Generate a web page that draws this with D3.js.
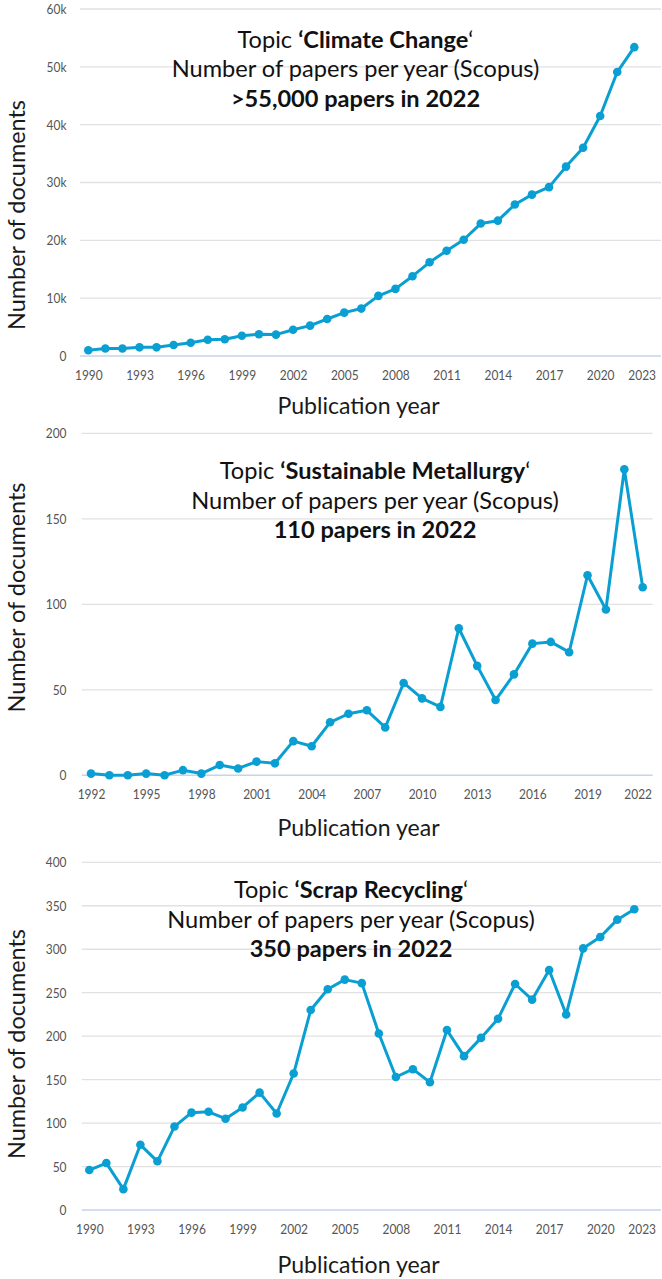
<!DOCTYPE html>
<html><head><meta charset="utf-8">
<script src="https://cdn.jsdelivr.net/npm/d3@7"></script>
<style>body{margin:0;background:#fff} svg{display:block}</style>
</head><body>
<svg id="c" width="662" height="1279"></svg>
<script>
// ---------- DATA ----------
const climateYears = [1990,1991,1992,1993,1994,1995,1996,1997,1998,1999,2000,2001,2002,2003,2004,2005,2006,2007,2008,2009,2010,2011,2012,2013,2014,2015,2016,2017,2018,2019,2020,2021,2022];
const climateValues = [1000,1300,1300,1500,1500,1900,2300,2800,2900,3500,3750,3700,4550,5250,6400,7500,8200,10400,11600,13800,16200,18200,20100,22900,23400,26200,27900,29200,32750,36000,41500,49100,53400];

const metallurgyYears = [1992,1993,1994,1995,1996,1997,1998,1999,2000,2001,2002,2003,2004,2005,2006,2007,2008,2009,2010,2011,2012,2013,2014,2015,2016,2017,2018,2019,2020,2021,2022];
const metallurgyValues = [1,0,0,1,0,3,1,6,4,8,7,20,17,31,36,38,28,54,45,40,86,64,44,59,77,78,72,117,97,179,110];

const scrapYears = [1990,1991,1992,1993,1994,1995,1996,1997,1998,1999,2000,2001,2002,2003,2004,2005,2006,2007,2008,2009,2010,2011,2012,2013,2014,2015,2016,2017,2018,2019,2020,2021,2022];
const scrapValues = [46,54,24,75,56,96,112,113,105,118,135,111,157,230,254,265,261,203,153,162,147,207,177,198,220,260,242,276,225,301,314,334,346];

const climateXTicks = [1990,1993,1996,1999,2002,2005,2008,2011,2014,2017,2020,2023];
const metallurgyXTicks = [1992,1995,1998,2001,2004,2007,2010,2013,2016,2019,2022];
const scrapXTicks = [1990,1993,1996,1999,2002,2005,2008,2011,2014,2017,2020,2023];

const climateYTicks = [0,10000,20000,30000,40000,50000,60000];
const climateYTickLabels = ["0","10k","20k","30k","40k","50k","60k"];
const metallurgyYTicks = [0,50,100,150,200];
const metallurgyYTickLabels = ["0","50","100","150","200"];
const scrapYTicks = [0,50,100,150,200,250,300,350,400];
const scrapYTickLabels = ["0","50","100","150","200","250","300","350","400"];

const climateTitle = ["Climate Change", ">55,000 papers in 2022"];
const metallurgyTitle = ["Sustainable Metallurgy", "110 papers in 2022"];
const scrapTitle = ["Scrap Recycling", "350 papers in 2022"];
const subtitle = "Number of papers per year (Scopus)";
const xAxisTitle = "Publication year";
const yAxisTitle = "Number of documents";

// ---------- LAYOUT ----------
const panels = [
  {years: climateYears, values: climateValues, xTicks: climateXTicks, yTicks: climateYTicks, yLabels: climateYTickLabels, title: climateTitle,
   xDom:[1990,2022], xRange:[88.3,634.3], yMax:60000, yRange:[356,9], gridX:[80,661], labelMax:656,
   titleX:355.5, titleY:[47.7,77.3,106.7], xTitleY:414.3, yTitleY:215},
  {years: metallurgyYears, values: metallurgyValues, xTicks: metallurgyXTicks, yTicks: metallurgyYTicks, yLabels: metallurgyYTickLabels, title: metallurgyTitle,
   xDom:[1992,2022], xRange:[91,642.7], yMax:200, yRange:[775.3,433.3], gridX:[81.7,652.7], labelMax:652,
   titleX:375, titleY:[479.3,508.6,538.3], xTitleY:835.5, yTitleY:597.5},
  {years: scrapYears, values: scrapValues, xTicks: scrapXTicks, yTicks: scrapYTicks, yLabels: scrapYTickLabels, title: scrapTitle,
   xDom:[1990,2022], xRange:[89.3,634.3], yMax:400, yRange:[1210,862.3], gridX:[81.7,661], labelMax:656,
   titleX:351, titleY:[897.7,927.5,956.7], xTitleY:1272.7, yTitleY:1044}
];

const FONT = "Lato, 'Open Sans', sans-serif";
const LINE = "#0a9fd2";
const svg = d3.select("#c");

function fit(sel, target){
  const w = sel.node().getBBox().width;
  const fs = parseFloat(sel.attr("font-size"));
  const nfs = fs*target/w;
  sel.attr("font-size", nfs);
  return nfs;
}

// calibrate font sizes
const probe = svg.append("text").attr("font-family",FONT).attr("font-size",20);
probe.text(subtitle); const titleFS = fit(probe, 367.6);
const tickFS = 14;
probe.attr("font-size",tickFS).text("1990"); const tickSquash = 27.7 / probe.node().getComputedTextLength();
probe.attr("font-size",20).text(xAxisTitle); const xtFS = fit(probe, 163);
probe.attr("font-size",20).text(yAxisTitle); const ytFS = fit(probe, 230);
probe.remove();

function squash(sel){
  sel.each(function(){
    const w = this.getComputedTextLength();
    d3.select(this).attr("textLength", w*tickSquash).attr("lengthAdjust","spacingAndGlyphs");
  });
}

panels.forEach(p => {
  const g = svg.append("g");
  const x = d3.scaleLinear().domain(p.xDom).range(p.xRange);
  const y = d3.scaleLinear().domain([0,p.yMax]).range(p.yRange);

  // gridlines
  g.append("g").selectAll("line").data(p.yTicks.filter(t=>t>0)).join("line")
    .attr("x1",p.gridX[0]).attr("x2",p.gridX[1])
    .attr("y1",d=>y(d)).attr("y2",d=>y(d))
    .attr("stroke","#e1e1e1").attr("stroke-width",1.3);
  // baseline
  g.append("line").attr("x1",p.gridX[0]).attr("x2",p.gridX[1])
    .attr("y1",y(0)).attr("y2",y(0)).attr("stroke","#c6d3ea").attr("stroke-width",1.4);

  // y axis labels
  const ya = g.append("g").attr("transform",`translate(${p.gridX[0]},0)`)
    .call(d3.axisLeft(y).tickValues(p.yTicks).tickFormat((d,i)=>p.yLabels[i]).tickSize(0).tickPadding(p.gridX[0]-66.5));
  ya.select(".domain").remove();
  ya.selectAll("text").attr("font-family",FONT).attr("font-size",tickFS).attr("fill","#555").call(squash);

  // x axis labels
  const xa = g.append("g").attr("transform",`translate(0,${y(0)})`)
    .call(d3.axisBottom(x).tickValues(p.xTicks).tickFormat(d3.format("d")).tickSize(0));
  xa.select(".domain").remove();
  xa.selectAll("text").attr("font-family",FONT).attr("font-size",tickFS).attr("fill","#555")
    .attr("y",23.5).attr("dy",0).call(squash);
  xa.selectAll(".tick").each(function(){
    const t = d3.select(this).select("text");
    const bb = this.getBBox();
    const tr = this.transform.baseVal.consolidate().matrix.e;
    const right = tr + bb.x + bb.width;
    if (right > p.labelMax) t.attr("x", p.labelMax - right);
  });

  // line + markers
  const pts = p.years.map((yr,i)=>[yr,p.values[i]]);
  g.append("path").datum(pts)
    .attr("d", d3.line().x(d=>x(d[0])).y(d=>y(d[1])))
    .attr("fill","none").attr("stroke",LINE).attr("stroke-width",3).attr("stroke-linejoin","round");
  g.append("g").selectAll("circle").data(pts).join("circle")
    .attr("cx",d=>x(d[0])).attr("cy",d=>y(d[1])).attr("r",4.3).attr("fill",LINE);

  // title
  const t1 = g.append("text").attr("x",p.titleX).attr("y",p.titleY[0]).attr("text-anchor","middle")
    .attr("font-family",FONT).attr("font-size",titleFS).attr("fill","#111");
  t1.append("tspan").text("Topic ");
  t1.append("tspan").attr("font-weight","bold").text("\u2018" + p.title[0]);
  t1.append("tspan").text("\u2018");
  g.append("text").attr("x",p.titleX).attr("y",p.titleY[1]).attr("text-anchor","middle")
    .attr("font-family",FONT).attr("font-size",titleFS).attr("fill","#111").text(subtitle);
  g.append("text").attr("x",p.titleX).attr("y",p.titleY[2]).attr("text-anchor","middle")
    .attr("font-family",FONT).attr("font-size",titleFS).attr("font-weight","bold").attr("fill","#111").text(p.title[1]);

  // axis titles
  g.append("text").attr("x",358.5).attr("y",p.xTitleY).attr("text-anchor","middle")
    .attr("font-family",FONT).attr("font-size",xtFS).attr("fill","#1a1a1a").text(xAxisTitle);
  g.append("text").attr("transform",`translate(25,${p.yTitleY}) rotate(-90)`).attr("text-anchor","middle")
    .attr("font-family",FONT).attr("font-size",ytFS).attr("fill","#1a1a1a").text(yAxisTitle);
});
</script>
</body></html>
